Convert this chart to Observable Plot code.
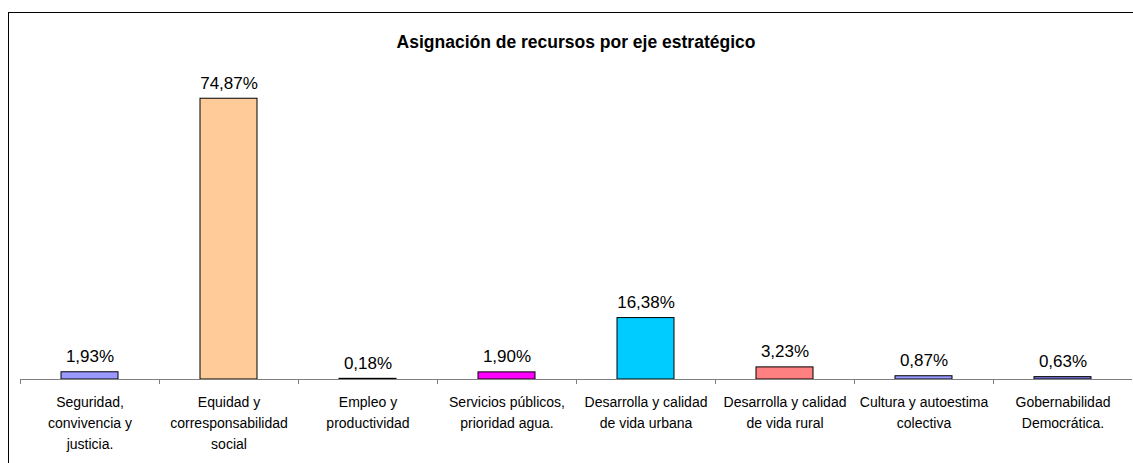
<!DOCTYPE html>
<html>
<head>
<meta charset="utf-8">
<script src="https://cdn.jsdelivr.net/npm/d3@7"></script>
<script src="https://cdn.jsdelivr.net/npm/@observablehq/plot@0.6"></script>
<style>
  html, body { margin: 0; padding: 0; background: #fff; }
  #wrap { position: relative; width: 1133px; height: 463px; overflow: hidden; font-family: "Liberation Sans", Arial, sans-serif; }
  #frame { position: absolute; left: 8px; top: 12px; width: 1300px; height: 600px; border: 1px solid #000; box-sizing: border-box; }
  #title { position: absolute; left: 0; top: 32px; width: 1152px; text-align: center; font-size: 17.5px; line-height: 20px; font-weight: bold; color: #000; }
  #chart { position: absolute; left: 0; top: 0; }
</style>
</head>
<body>
<div id="wrap">
  <div id="frame"></div>
  <div id="chart"></div>
  <div id="title">Asignación de recursos por eje estratégico</div>
</div>
<script>
const categories = [
  "Seguridad,\nconvivencia y\njusticia.",
  "Equidad y\ncorresponsabilidad\nsocial",
  "Empleo y\nproductividad",
  "Servicios públicos,\nprioridad agua.",
  "Desarrolla y calidad\nde vida urbana",
  "Desarrolla y calidad\nde vida rural",
  "Cultura y autoestima\ncolectiva",
  "Gobernabilidad\nDemocrática."
];
const values = [1.93, 74.87, 0.18, 1.90, 16.38, 3.23, 0.87, 0.63];
const valueLabels = ["1,93%", "74,87%", "0,18%", "1,90%", "16,38%", "3,23%", "0,87%", "0,63%"];
const colors = ["#9999FF", "#FFCC99", "#222222", "#FF00FF", "#00CCFF", "#FF8080", "#9999FF", "#7777DD"];

const data = categories.map((c, i) => ({cat: c, value: values[i], label: valueLabels[i], color: colors[i]}));

const W = 1133, H = 463, mL = 20, mR = 1, mT = 79, mB = 84;
const step = (W - mL - mR) / categories.length;

const chart = Plot.plot({
  width: W,
  height: H,
  marginLeft: mL,
  marginRight: mR,
  marginTop: mT,
  marginBottom: mB,
  style: {background: "transparent", fontFamily: "Liberation Sans, Arial, sans-serif"},
  x: {domain: categories, paddingInner: 0.59, paddingOuter: 0.295, axis: null},
  y: {domain: [0, 80], axis: null},
  color: {type: "identity"},
  marks: [
    Plot.barY(data, {x: "cat", y: "value", fill: "color", stroke: "#000", strokeWidth: 1}),
    Plot.ruleY([0], {stroke: "#808080", strokeWidth: 1}),
    Plot.axisX({anchor: "bottom", tickSize: 5, dx: -step / 2, tickFormat: () => "", stroke: "#808080", label: null}),
    Plot.text(data, {x: "cat", y: "value", text: "label", lineAnchor: "bottom", dy: -10, fontSize: 17, fill: "#000"}),
    Plot.text(data, {x: "cat", y: 0, text: "cat", lineAnchor: "top", dy: 13, fontSize: 14, lineHeight: 1.5, fill: "#000"})
  ]
});
document.getElementById("chart").appendChild(chart);
</script>
</body>
</html>
